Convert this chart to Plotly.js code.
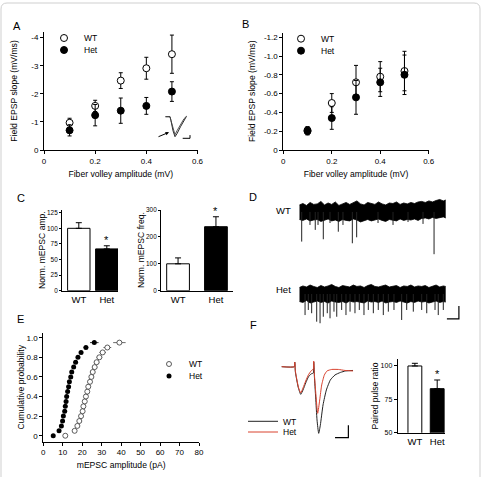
<!DOCTYPE html>
<html><head><meta charset="utf-8">
<script src="https://cdn.plot.ly/plotly-3.0.1.min.js"></script>
<style>html,body{margin:0;padding:0;background:#fff}#chart{width:483px;height:477px}</style>
</head><body><div id="chart"></div>
<script>
// ---------- Panel A : field EPSP slope vs fiber volley ----------
const fvA = [0.1, 0.2, 0.3, 0.4, 0.5];
const slopeA_WT = [-0.97, -1.57, -2.47, -2.91, -3.41];
const errA_WT = [0.16, 0.20, 0.28, 0.39, 0.68];
const slopeA_Het = [-0.70, -1.24, -1.40, -1.57, -2.08];
const errA_Het = [0.20, 0.38, 0.45, 0.30, 0.35];
const tickA_x = [0, 0.2, 0.4, 0.6];
const tickA_xText = ['0', '0.2', '0.4', '0.6'];
const tickA_y = [0, -1, -2, -3, -4];
const tickA_yText = ['0', '-1', '-2', '-3', '-4'];
// inset fEPSP (ms, mV)
const insetTime = [0.5, 1.4, 1.6, 2.0, 2.4, 2.8, 3.5, 4.2, 4.7];
const insetWT = [0, 0, -0.2, -0.7, -1.0, -0.85, -0.5, -0.15, 0.02];
const insetHet = [0, 0, -0.2, -0.62, -0.9, -0.7, -0.38, -0.1, 0.02];
const insetScaleTime = [3.94, 5.4, 5.4];
const insetScaleV = [-1.08, -1.08, -0.92];

// ---------- Panel B ----------
const fvB = [0.1, 0.2, 0.3, 0.4, 0.5];
const slopeB_WT = [-0.21, -0.50, -0.72, -0.78, -0.84];
const errB_WT = [0.04, 0.10, 0.18, 0.16, 0.21];
const slopeB_Het = [-0.20, -0.34, -0.56, -0.72, -0.80];
const errB_Het = [0.04, 0.12, 0.18, 0.15, 0.21];
const tickB_y = [0, -0.2, -0.4, -0.6, -0.8, -1.0, -1.2];
const tickB_yText = ['0', '-0.2', '-0.4', '-0.6', '-0.8', '-1.0', '-1.2'];

// ---------- Panel C ----------
const groups = ['WT', 'Het'];
const ampC = [100, 67];
const errAmpC = [9, 5];
const freqC = [100, 238];
const errFreqC = [22, 37];
const tickC_amp = [0, 25, 50, 75, 100, 125];
const tickC_freq = [0, 100, 200, 300];

// ---------- Panel D : raw mEPSC traces (s, pA) ----------
const dEnvTime = [0,0.3,0.6,0.9,1.2,1.5,1.8,2.1,2.4,2.7,3.0,3.3,3.6,3.9,4.2,4.5,4.8,5.1,5.4,5.7,6.0,6.3,6.6,6.9,7.2,7.5,7.8,8.1,8.4,8.7,9.0,9.3,9.6,9.9,10.2,10.5,10.8,11.1,11.4,11.7,12.0,12.2];
const dWT_upper = [5.4,6.5,5.0,7.3,5.8,6.2,8.1,5.4,6.9,5.8,7.7,5.0,6.2,7.3,5.8,6.9,8.5,6.2,5.4,7.3,6.5,5.8,7.7,6.2,5.4,6.9,6.5,7.7,5.8,6.9,6.2,7.3,6.5,7.7,8.1,7.3,8.5,7.7,8.8,9.6,8.5,9.2];
const dWT_lower = [-5.8,-6.5,-5.4,-6.9,-6.2,-5.8,-7.3,-6.2,-5.4,-6.9,-6.2,-7.3,-5.8,-6.5,-6.9,-5.4,-6.2,-7.7,-6.5,-5.8,-6.9,-6.2,-5.4,-6.5,-7.3,-5.8,-6.2,-6.9,-5.4,-6.5,-5.8,-6.2,-5.4,-6.5,-5.0,-4.6,-5.4,-4.2,-5.0,-4.6,-3.8,-4.6];
const dWT_eventTime = [0.2, 0.89, 1.33, 1.56, 2.0, 2.56, 3.25, 3.64, 4.42, 4.78, 6.56, 7.81, 9.06, 10.31, 11.23];
const dWT_eventAmp = [-22.8, -10.0, -13.8, -10.0, -21.0, -8.5, -15.2, -10.0, -24.1, -19.5, -8.5, -10.0, -7.7, -9.2, -32.5];
const dHet_upper = [5.0,6.2,5.4,6.9,5.8,5.0,6.5,5.4,6.2,7.3,5.8,5.0,6.5,6.2,5.4,6.9,5.8,6.2,5.0,6.5,7.3,5.8,5.4,6.2,6.9,5.4,5.8,6.5,5.0,6.2,5.8,6.9,5.4,6.2,5.8,6.5,5.0,6.2,6.9,5.4,6.2,5.8];
const dHet_lower = [-5.8,-6.5,-5.0,-6.9,-6.2,-5.4,-6.5,-5.8,-6.9,-5.4,-6.2,-6.5,-5.8,-6.9,-5.4,-6.2,-5.8,-6.5,-6.9,-5.4,-6.2,-5.8,-6.5,-5.4,-6.9,-6.2,-5.8,-6.5,-5.4,-6.2,-6.9,-5.8,-6.5,-5.4,-6.2,-5.8,-6.9,-6.2,-5.4,-6.5,-5.8,-6.2];
const dHet_eventTime = [0.48,0.75,1.03,1.45,1.73,2.0,2.33,2.56,2.89,3.12,3.53,3.89,4.23,4.64,5.0,5.39,5.75,6.17,6.58,7.0,7.42,7.89,8.53,8.95,9.5,10.2,10.62,11.31,11.58,12.0];
const dHet_eventAmp = [-16.2,-12.3,-14.8,-21.3,-22.5,-17.5,-14.8,-18.7,-13.6,-17.5,-12.3,-16.2,-13.6,-14.8,-12.3,-16.2,-12.3,-14.8,-12.3,-16.2,-13.6,-12.3,-20.0,-12.3,-13.6,-12.3,-14.8,-12.3,-16.2,-12.3];
const dScaleTime = [12.3, 13.3, 13.3];   // 1 s
const dScaleAmp = [-19.2, -19.2, -9.2];  // 10 pA

// ---------- Panel E : cumulative distributions ----------
const cumProb = [0,0.05,0.1,0.15,0.2,0.25,0.3,0.35,0.4,0.45,0.5,0.55,0.6,0.65,0.7,0.75,0.8,0.85,0.9,0.95];
const ampE_WT = [11.3,16.1,17.5,18.5,19.4,20.2,20.6,21.3,21.9,22.6,23.1,24.0,24.7,25.4,26.4,27.4,28.8,30.5,32.9,39.1];
const errE_WT = [0.8,1.0,1.0,1.0,1.0,1.0,1.0,1.0,1.0,1.0,1.1,1.1,1.2,1.2,1.3,1.4,1.5,1.7,2.0,3.2];
const ampE_Het = [5.1,8.1,9.3,9.9,10.3,11.0,11.3,11.7,12.0,12.5,13.0,13.4,14.1,14.6,15.6,16.6,17.8,19.4,21.9,26.2];
const errE_Het = [0.3,0.4,0.4,0.4,0.4,0.4,0.4,0.4,0.5,0.5,0.5,0.5,0.5,0.6,0.6,0.7,0.8,0.9,1.2,2.2];
const tickE_x = [0,10,20,30,40,50,60,70,80];
const tickE_y = [0,0.2,0.4,0.6,0.8,1.0];
const tickE_yText = ['0','0.2','0.4','0.6','0.8','1.0'];

// ---------- Panel F : paired-pulse EPSCs (ms, pA) ----------
const fTimeWT = [0,19,19.5,20,20.5,22,25,28.5,32,36,40,44,47.5,48,48.5,49,51,53,55.5,58,62,67,73,80,88,96,107];
const fWT = [0,0,37.6,5.6,-42,-90,-170,-221,-186,-130,-82,-58,-50,38,-10,-74,-250,-426,-533,-466,-306,-186,-106,-66,-46,-34,-30];
const fTimeHet = [0,19,19.5,20,20.5,22,25,28.5,32,36,40,44,47.5,48,48.5,49,51,54,57,60,64,68,75,85,95,107];
const fHet = [0,0,37.6,5.6,-34,-82,-162,-210,-170,-114,-66,-34,-18,45,-2,-58,-202,-373,-266,-146,-66,-34,-22,-22,-30,-34];
const fScaleTime = [80, 100, 100];    // 20 ms
const fScaleAmp = [-568, -568, -468]; // 100 pA
const ppr = [100, 83];
const errPpr = [2, 6.5];
const tickF_y = [50, 75, 100];

// ---------- helpers ----------
const W = 483, H = 477;
const FONT = 'Liberation Sans, Arial, Helvetica, sans-serif';
const dx = (a, b) => [a / W, b / W];
const dy = (top, bottom) => [1 - bottom / H, 1 - top / H];
const px = v => v / W, py = v => 1 - v / H;
const idx = groups.map((g, i) => i);

function visAxis(domain, range, extra) {
  return Object.assign({
    domain: domain, range: range, autorange: false,
    showline: true, linecolor: '#000', linewidth: 1,
    ticks: 'outside', ticklen: 3, tickwidth: 1, tickcolor: '#000',
    showgrid: false, zeroline: false, fixedrange: true,
    tickfont: {size: 8, color: '#000', family: FONT}
  }, extra || {});
}
function hidAxis(domain, range) {
  return {domain: domain, range: range, autorange: false, visible: false, fixedrange: true,
          showgrid: false, zeroline: false};
}
function spikes(t, a) {
  const x = [], y = [];
  t.forEach((v, i) => { x.push(v, v, null); y.push(0, a[i], null); });
  return {x, y};
}
const titleFont = {size: 8.6, color: '#000', family: FONT};
const openMarker = (s) => ({symbol: 'circle', size: s, color: '#fff', line: {color: '#000', width: 1}});
const filledMarker = (s) => ({symbol: 'circle', size: s, color: '#000', line: {color: '#000', width: 1}});

const traces = [];
// A
traces.push({x: fvA, y: slopeA_WT, xaxis: 'x', yaxis: 'y', mode: 'markers', name: 'WT', legend: 'legend',
  marker: openMarker(7), error_y: {type: 'data', array: errA_WT, color: '#000', thickness: 1, width: 2}});
traces.push({x: fvA, y: slopeA_Het, xaxis: 'x', yaxis: 'y', mode: 'markers', name: 'Het', legend: 'legend5',
  marker: filledMarker(7), error_y: {type: 'data', array: errA_Het, color: '#000', thickness: 1, width: 2}});
traces.push({x: insetTime, y: insetWT, xaxis: 'x10', yaxis: 'y10', mode: 'lines', showlegend: false,
  line: {color: '#111', width: 0.9}});
traces.push({x: insetTime, y: insetHet, xaxis: 'x10', yaxis: 'y10', mode: 'lines', showlegend: false,
  line: {color: '#444', width: 0.9}});
traces.push({x: insetScaleTime, y: insetScaleV, xaxis: 'x10', yaxis: 'y10', mode: 'lines', showlegend: false,
  line: {color: '#000', width: 1}});
// B
traces.push({x: fvB, y: slopeB_WT, xaxis: 'x2', yaxis: 'y2', mode: 'markers', name: 'WT', legend: 'legend2',
  marker: openMarker(7), error_y: {type: 'data', array: errB_WT, color: '#000', thickness: 1, width: 2}});
traces.push({x: fvB, y: slopeB_Het, xaxis: 'x2', yaxis: 'y2', mode: 'markers', name: 'Het', legend: 'legend6',
  marker: filledMarker(7), error_y: {type: 'data', array: errB_Het, color: '#000', thickness: 1, width: 2}});
// C
traces.push({type: 'bar', x: idx, y: ampC, xaxis: 'x3', yaxis: 'y3', width: 0.8, showlegend: false,
  marker: {color: ['#fff', '#000'], line: {color: '#000', width: 1}},
  error_y: {type: 'data', array: errAmpC, arrayminus: [0, 0], symmetric: false, color: '#000', thickness: 1, width: 3}});
traces.push({type: 'bar', x: idx, y: freqC, xaxis: 'x4', yaxis: 'y4', width: 0.6, showlegend: false,
  marker: {color: ['#fff', '#000'], line: {color: '#000', width: 1}},
  error_y: {type: 'data', array: errFreqC, arrayminus: [0, 0], symmetric: false, color: '#000', thickness: 1, width: 3}});
// D
function bandTraces(upper, lower, yax) {
  return [
    {x: dEnvTime, y: upper, xaxis: 'x5', yaxis: yax, mode: 'lines', showlegend: false, line: {color: '#000', width: 0.8}},
    {x: dEnvTime, y: lower, xaxis: 'x5', yaxis: yax, mode: 'lines', showlegend: false, fill: 'tonexty', fillcolor: '#000', line: {color: '#000', width: 0.8}}
  ];
}
traces.push(...bandTraces(dWT_upper, dWT_lower, 'y5'));
const sWT = spikes(dWT_eventTime, dWT_eventAmp);
traces.push({x: sWT.x, y: sWT.y, xaxis: 'x5', yaxis: 'y5', mode: 'lines', showlegend: false, line: {color: '#222', width: 1}});
traces.push(...bandTraces(dHet_upper, dHet_lower, 'y6'));
const sHet = spikes(dHet_eventTime, dHet_eventAmp);
traces.push({x: sHet.x, y: sHet.y, xaxis: 'x5', yaxis: 'y6', mode: 'lines', showlegend: false, line: {color: '#222', width: 1}});
traces.push({x: dScaleTime, y: dScaleAmp, xaxis: 'x5', yaxis: 'y6', mode: 'lines', showlegend: false, line: {color: '#000', width: 1.2}});
// E
traces.push({x: ampE_WT, y: cumProb, xaxis: 'x7', yaxis: 'y7', mode: 'markers', name: 'WT', legend: 'legend3',
  marker: {symbol: 'circle', size: 5, color: '#fff', line: {color: '#333', width: 0.8}},
  error_x: {type: 'data', array: errE_WT, color: '#444', thickness: 0.8, width: 0}});
traces.push({x: ampE_Het, y: cumProb, xaxis: 'x7', yaxis: 'y7', mode: 'markers', name: 'Het', legend: 'legend7',
  marker: {symbol: 'circle', size: 5, color: '#000'},
  error_x: {type: 'data', array: errE_Het, color: '#000', thickness: 0.8, width: 0}});
// F
traces.push({x: fTimeWT, y: fWT, xaxis: 'x8', yaxis: 'y8', mode: 'lines', name: 'WT', legend: 'legend4',
  line: {color: '#222', width: 1, shape: 'spline', smoothing: 0.5}});
traces.push({x: fTimeHet, y: fHet, xaxis: 'x8', yaxis: 'y8', mode: 'lines', name: 'Het', legend: 'legend8',
  line: {color: '#d9432f', width: 1, shape: 'spline', smoothing: 0.5}});
traces.push({x: fScaleTime, y: fScaleAmp, xaxis: 'x8', yaxis: 'y8', mode: 'lines', showlegend: false, line: {color: '#000', width: 1.2}});
traces.push({type: 'bar', x: idx, y: ppr, base: 0, xaxis: 'x9', yaxis: 'y9', width: 0.62, showlegend: false,
  marker: {color: ['#fff', '#000'], line: {color: '#000', width: 1}},
  error_y: {type: 'data', array: errPpr, arrayminus: [0, 0], symmetric: false, color: '#000', thickness: 1, width: 3}});

// one legend per entry so that entries can sit as close together as in the reference
function legendAt(left, centerY) {
  return {x: px(left), y: py(centerY - 13.5), xanchor: 'left', yanchor: 'top', bgcolor: 'rgba(0,0,0,0)',
          font: {size: 8.5, color: '#000', family: FONT}, itemwidth: 30, tracegroupgap: 0,
          borderwidth: 0, traceorder: 'normal'};
}
function letter(t, x, y) {
  return {text: t, x: px(x), y: py(y), xref: 'paper', yref: 'paper', showarrow: false,
          font: {size: 11, color: '#000', family: FONT}, xanchor: 'center', yanchor: 'middle'};
}
function label(t, x, y, size) {
  return {text: t, x: px(x), y: py(y), xref: 'paper', yref: 'paper', showarrow: false,
          font: {size: size, color: '#000', family: FONT}, xanchor: 'center', yanchor: 'middle'};
}
function star(xr, yr, xv, yv) {
  return {text: '*', x: xv, y: yv, xref: xr, yref: yr, showarrow: false, yanchor: 'bottom',
          font: {size: 11, color: '#000', family: FONT}, yshift: -2};
}

const rx = 6 / W, ry = 6 / H, L = 1 / W, R = 480 / W, T = 1 - 3 / H, B = -0.02;
const framePath = `M ${L + rx},${T} L ${R - rx},${T} Q ${R},${T} ${R},${T - ry} L ${R},${B} L ${L},${B} L ${L},${T - ry} Q ${L},${T} ${L + rx},${T} Z`;
const smallTick = (s) => ({size: s, color: '#000', family: FONT});

const layout = {
  width: W, height: H, margin: {l: 0, r: 0, t: 0, b: 0},
  paper_bgcolor: '#fff', plot_bgcolor: 'rgba(0,0,0,0)',
  font: {family: FONT, color: '#000', size: 8},
  showlegend: true,
  // A
  xaxis: visAxis(dx(44, 197.5), [0, 0.6], {anchor: 'y', tickvals: tickA_x, ticktext: tickA_xText,
    title: {text: 'Fiber volley amplitude (mV)', font: titleFont, standoff: 6}}),
  yaxis: visAxis(dy(32, 150), [0, -4.2], {anchor: 'x', tickvals: tickA_y, ticktext: tickA_yText,
    title: {text: 'Field EPSP slope (mV/ms)', font: titleFont, standoff: 12}}),
  // B
  xaxis2: visAxis(dx(283.3, 428.7), [0, 0.6], {anchor: 'y2', tickvals: tickA_x, ticktext: tickA_xText,
    title: {text: 'Fiber volley amplitude (mV)', font: titleFont, standoff: 6}}),
  yaxis2: visAxis(dy(32.5, 150), [0, -1.25], {anchor: 'x2', tickvals: tickB_y, ticktext: tickB_yText,
    title: {text: 'Field EPSP slope (mV/ms)', font: titleFont, standoff: 6.5}}),
  // C
  xaxis3: visAxis(dx(62, 118), [-0.6, 1.4], {anchor: 'y3', tickvals: idx, ticktext: groups, ticks: '',
    tickfont: smallTick(9.5)}),
  yaxis3: visAxis(dy(209.6, 290.7), [0, 130], {anchor: 'x3', tickvals: tickC_amp, ticklen: 2,
    tickfont: smallTick(6.4), title: {text: 'Norm. mEPSC amp.', font: titleFont, standoff: 0}}),
  xaxis4: visAxis(dx(161, 233), [-0.45, 1.45], {anchor: 'y4', tickvals: idx, ticktext: groups, ticks: '',
    tickfont: smallTick(9.5)}),
  yaxis4: visAxis(dy(209.5, 290.7), [0, 302], {anchor: 'x4', tickvals: tickC_freq, ticklen: 2,
    tickfont: smallTick(6.4), title: {text: 'Norm. mEPSC freq.', font: titleFont, standoff: 0}}),
  // D
  xaxis5: hidAxis(dx(299.3, 461.3), [0, 13.5]),
  yaxis5: Object.assign(hidAxis(dy(197, 262), [-38.5, 11.5]), {anchor: 'x5'}),
  yaxis6: Object.assign(hidAxis(dy(280, 330), [-27.7, 10.77]), {anchor: 'x5'}),
  // E
  xaxis7: visAxis(dx(43.3, 199), [0, 80], {anchor: 'y7', tickvals: tickE_x,
    title: {text: 'mEPSC amplitude (pA)', font: titleFont, standoff: 5}}),
  yaxis7: visAxis(dy(333, 441.7), [-0.061, 1.048], {anchor: 'x7', tickvals: tickE_y, ticktext: tickE_yText,
    title: {text: 'Cumulative probability', font: titleFont, standoff: 0}}),
  // F
  xaxis8: hidAxis(dx(280, 360), [-2.55, 117.45]),
  yaxis8: Object.assign(hidAxis(dy(355, 440), [-586.4, 93.6]), {anchor: 'x8'}),
  xaxis9: visAxis(dx(397.7, 445), [-0.77, 1.35], {anchor: 'y9', tickvals: idx, ticktext: groups, ticks: '',
    tickfont: smallTick(9.5)}),
  yaxis9: visAxis(dy(359.3, 432.7), [50, 105], {anchor: 'x9', tickvals: tickF_y,
    tickfont: smallTick(7), title: {text: 'Paired pulse ratio', font: titleFont, standoff: 0}}),
  // inset A
  xaxis10: hidAxis(dx(163, 193), [0, 6]),
  yaxis10: Object.assign(hidAxis(dy(112, 140), [-1.165, 0.235]), {anchor: 'x10'}),
  legend: legendAt(44, 37),
  legend5: legendAt(44, 49),
  legend2: legendAt(281, 37.7),
  legend6: legendAt(281, 49.7),
  legend3: legendAt(149, 363),
  legend7: legendAt(149, 375),
  legend4: legendAt(243, 420.3),
  legend8: legendAt(243, 431),
  annotations: [
    letter('A', 17, 26), letter('B', 245, 24), letter('C', 20.7, 198), letter('D', 252.7, 197.3),
    letter('E', 20.7, 319.3), letter('F', 253.3, 325),
    label('WT', 283.3, 210, 9.5), label('Het', 283.3, 289, 9.5),
    star('x3', 'y3', 1, ampC[1] + errAmpC[1]),
    star('x4', 'y4', 1, freqC[1] + errFreqC[1]),
    star('x9', 'y9', 1, ppr[1] + errPpr[1]),
    {x: 1.2, y: -0.78, xref: 'x10', yref: 'y10', ax: -12, ay: 5, text: '', showarrow: true,
     arrowhead: 2, arrowsize: 0.7, arrowwidth: 1, arrowcolor: '#000'}
  ],
  shapes: [{type: 'path', xref: 'paper', yref: 'paper', path: framePath, line: {color: '#cfcfcf', width: 1}}]
};
Plotly.newPlot('chart', traces, layout, {staticPlot: true, displayModeBar: false});
</script></body></html>
